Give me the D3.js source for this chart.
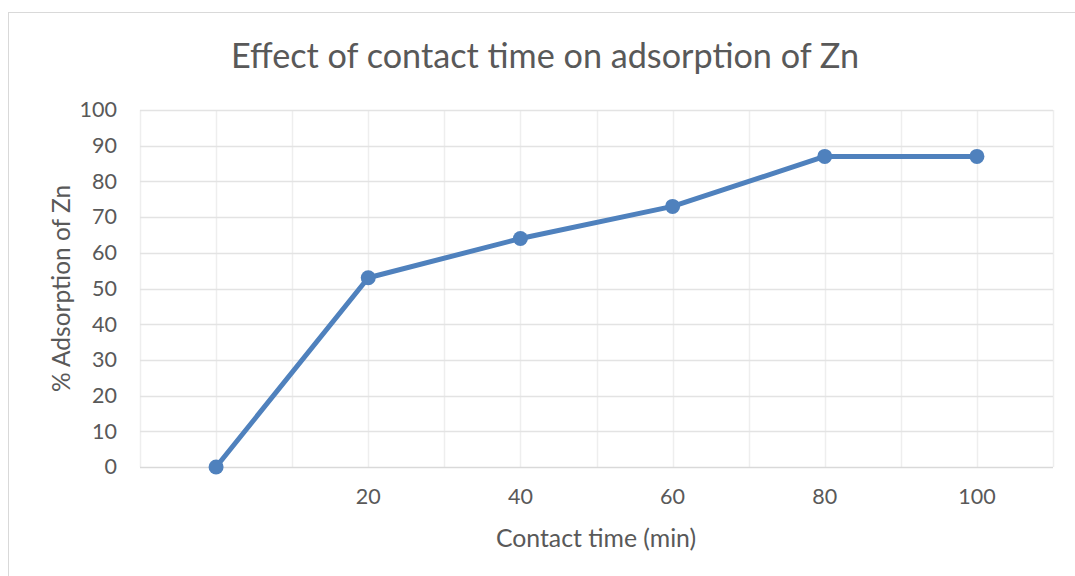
<!DOCTYPE html>
<html>
<head>
<meta charset="utf-8">
<script src="https://cdn.jsdelivr.net/npm/d3@7"></script>
<style>
  body { margin: 0; background: #fff; }
  text { font-family: Lato, "Open Sans", "Noto Sans", sans-serif; fill: #595959; }
</style>
</head>
<body>
<div id="chart"></div>
<script>
// chart values
var categories = ["", "20", "40", "60", "80", "100"];
var adsorption = [0, 53, 64, 73, 87, 87];
var yTicks = [0, 10, 20, 30, 40, 50, 60, 70, 80, 90, 100];

var W = 1075, H = 576;
var margin = { top: 110, right: 22, bottom: 109, left: 140 };
var width = W - margin.left - margin.right,
    height = H - margin.top - margin.bottom;

var svg = d3.select("#chart").append("svg")
    .attr("width", W)
    .attr("height", H);

// outer chart border
svg.append("rect")
    .attr("x", 8.5).attr("y", 12.5)
    .attr("width", W + 10).attr("height", H + 10)
    .attr("fill", "none")
    .attr("stroke", "#d9d9d9")
    .attr("stroke-width", 1);

var g = svg.append("g")
    .attr("transform", "translate(" + margin.left + "," + margin.top + ")");

var x = d3.scaleBand().domain(categories.map((d, i) => i)).range([0, width]).paddingInner(0);
var y = d3.scaleLinear().domain([0, 100]).range([height, 0]);

// vertical gridlines at band edges and band centres
var vLines = [];
categories.forEach((d, i) => {
    vLines.push(x(i));
    vLines.push(x(i) + x.bandwidth() / 2);
});
vLines.push(width);

g.selectAll(".vgrid").data(vLines).enter().append("line")
    .attr("class", "vgrid")
    .attr("x1", d => Math.round(d) + 0.5).attr("x2", d => Math.round(d) + 0.5)
    .attr("y1", 0).attr("y2", height)
    .attr("stroke", "#eeeeee").attr("stroke-width", 1.5);

g.selectAll(".hgrid").data(yTicks).enter().append("line")
    .attr("class", "hgrid")
    .attr("x1", 0).attr("x2", width)
    .attr("y1", d => Math.round(y(d)) + 0.5).attr("y2", d => Math.round(y(d)) + 0.5)
    .attr("stroke", d => d == 0 ? "#d9d9d9" : "#e3e3e3").attr("stroke-width", 1.5);

// axes (labels only)
var yAxis = d3.axisLeft(y).tickValues(yTicks).tickSize(0).tickPadding(23);
var yG = g.append("g").call(yAxis);
yG.select(".domain").remove();
yG.selectAll("text").style("font-size", "21.5px").attr("fill", "#595959");

var xAxis = d3.axisBottom(x).tickFormat(i => categories[i]).tickSize(0).tickPadding(22);
var xG = g.append("g").attr("transform", "translate(0," + height + ")").call(xAxis);
xG.select(".domain").remove();
xG.selectAll("text").style("font-size", "21.5px").attr("fill", "#595959");

// series
var cx = i => x(i) + x.bandwidth() / 2;
var line = d3.line().x((d, i) => cx(i)).y(d => y(d));

g.append("path")
    .datum(adsorption)
    .attr("d", line)
    .attr("fill", "none")
    .attr("stroke", "#4f81bd")
    .attr("stroke-width", 5)
    .attr("stroke-linejoin", "round");

g.selectAll(".dot").data(adsorption).enter().append("circle")
    .attr("class", "dot")
    .attr("cx", (d, i) => cx(i))
    .attr("cy", d => y(d))
    .attr("r", 7.5)
    .attr("fill", "#4f81bd");

// titles
svg.append("text")
    .attr("x", 545).attr("y", 68)
    .attr("text-anchor", "middle")
    .style("font-size", "34.2px")
    .text("Effect of contact time on adsorption of Zn");

svg.append("text")
    .attr("x", 596).attr("y", 547)
    .attr("text-anchor", "middle")
    .style("font-size", "24.8px")
    .text("Contact time (min)");

svg.append("text")
    .attr("transform", "translate(70," + (margin.top + height / 2) + ") rotate(-90)")
    .attr("text-anchor", "middle")
    .style("font-size", "24.5px")
    .text("% Adsorption of Zn");
</script>
</body>
</html>
